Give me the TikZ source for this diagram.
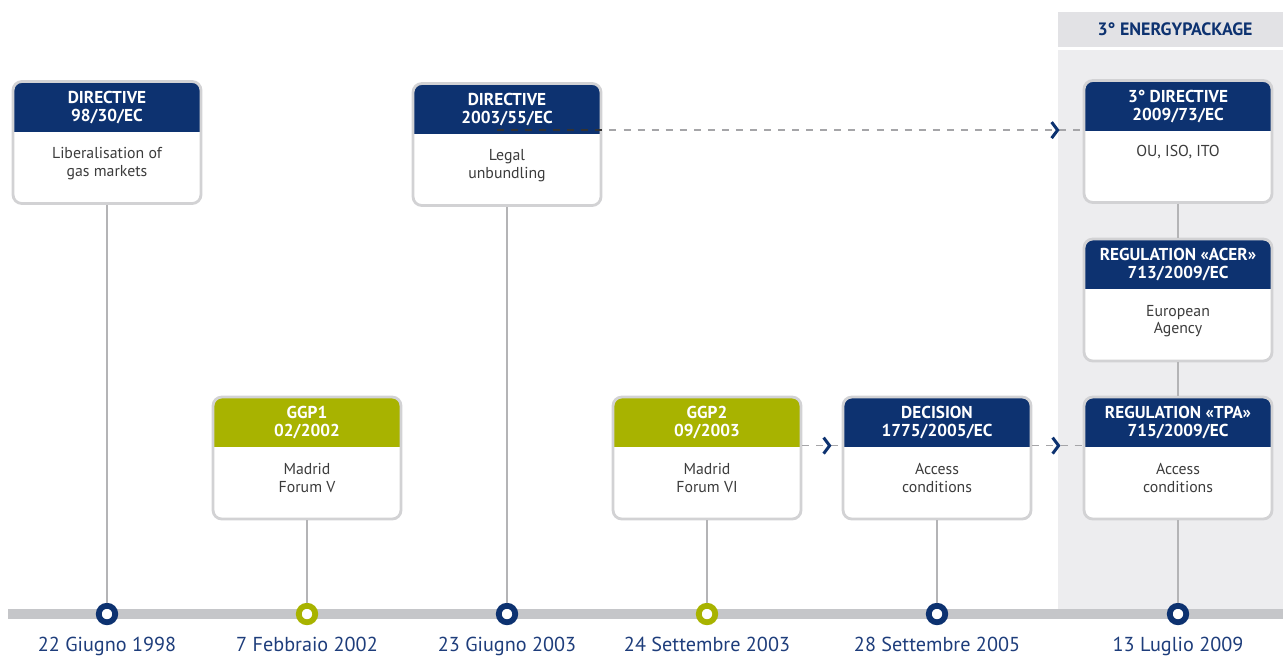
\documentclass[tikz,border=0pt]{standalone}
\usepackage{fontspec}
\setmainfont{PT Sans}
\usepackage{xcolor}
\definecolor{eu-navy}{HTML}{0D3270}
\definecolor{eu-olive}{HTML}{A8B300}
\definecolor{eu-date}{HTML}{1E3D7B}
\definecolor{eu-text}{HTML}{3C3C3C}
\definecolor{eu-border}{HTML}{D2D2D4}
\definecolor{eu-bar}{HTML}{C5C6C9}
\definecolor{eu-panel}{HTML}{EDEDEF}
\definecolor{eu-tab}{HTML}{E2E2E5}
\definecolor{eu-dash}{HTML}{A5A5A8}
\definecolor{eu-stem}{HTML}{B4B4B6}
\usepackage{tikz}
\usetikzlibrary{positioning, calc}

\tikzset{
  card/.style={draw=eu-border, line width=1.6pt, fill=white, rounded corners=5pt,
    minimum width=3.76cm, minimum height=2.44cm, inner sep=0pt,
    path picture={\fill[#1, sharp corners] (path picture bounding box.north west) rectangle ([yshift=-1.0cm]path picture bounding box.north east);}},
  headtext/.style={text=white, font=\bfseries\fontsize{9.8}{10.2}\selectfont, align=center, inner sep=0pt},
  bodytext/.style={text=eu-text, font=\fontsize{9}{10.2}\selectfont, align=center, anchor=north, inner sep=0pt},
  datetext/.style={text=eu-date, font=\fontsize{11.5}{13}\selectfont, inner sep=0pt},
  dot/.style={circle, draw=#1, line width=3.3pt, fill=white, minimum size=0.33cm, inner sep=0pt},
  stem/.style={draw=eu-stem, line width=0.6pt},
  dashline/.style={draw=eu-dash, line width=0.8pt, dash pattern=on 4pt off 4pt},
  chevron/.style={draw=eu-navy, line width=1.7pt}
}

\begin{document}
\begin{tikzpicture}[x=0.02cm, y=-0.02cm]

    \useasboundingbox (0, 0) rectangle (1283, 657);

    % Energy package panel
    \fill[eu-panel] (1058, 50) rectangle (1283, 609);
    \fill[eu-tab] (1058, 12) rectangle (1283, 47);
    \node[text=eu-navy, font=\bfseries\fontsize{10.2}{11}\selectfont] (tab) at (1175, 29.5) {3° ENERGYPACKAGE};

    % Timeline
    \fill[eu-bar] (8, 609) rectangle (1283, 619);

    \node[dot=eu-navy] (d98) at (107, 614) {};
    \node[dot=eu-olive] (d02) at (307, 614) {};
    \node[dot=eu-navy] (d03a) at (507, 614) {};
    \node[dot=eu-olive] (d03b) at (707, 614) {};
    \node[dot=eu-navy] (d05) at (937, 614) {};
    \node[dot=eu-navy] (d09) at (1178, 614) {};

    \node[datetext, below=0.24cm of d98] (t98) {22 Giugno 1998};
    \node[datetext, below=0.24cm of d02] (t02) {7 Febbraio 2002};
    \node[datetext, below=0.24cm of d03a] (t03a) {23 Giugno 2003};
    \node[datetext, below=0.24cm of d03b] (t03b) {24 Settembre 2003};
    \node[datetext, below=0.24cm of d05] (t05) {28 Settembre 2005};
    \node[datetext, below=0.24cm of d09] (t09) {13 Luglio 2009};

    % Directive 98/30/EC
    \node[card=eu-navy] (dir98) at (107, 142.5) {};
    \node[headtext] (dir98-h) at ($(dir98.north)+(0, 27)$) {DIRECTIVE\\98/30/EC};
    \node[bodytext] (dir98-b) at ($(dir98.north)+(0, 67)$) {Liberalisation of\\gas markets};

    % Directive 2003/55/EC
    \node[card=eu-navy] (dir03) at (507, 144.5) {};
    \node[headtext] (dir03-h) at ($(dir03.north)+(0, 27)$) {DIRECTIVE\\2003/55/EC};
    \node[bodytext] (dir03-b) at ($(dir03.north)+(0, 67)$) {Legal\\unbundling};

    % GGP1
    \node[card=eu-olive] (ggp1) at (307, 458) {};
    \node[headtext] (ggp1-h) at ($(ggp1.north)+(0, 27)$) {GGP1\\02/2002};
    \node[bodytext] (ggp1-b) at ($(ggp1.north)+(0, 67)$) {Madrid\\Forum V};

    % GGP2
    \node[card=eu-olive] (ggp2) at (707, 458) {};
    \node[headtext] (ggp2-h) at ($(ggp2.north)+(0, 27)$) {GGP2\\09/2003};
    \node[bodytext] (ggp2-b) at ($(ggp2.north)+(0, 67)$) {Madrid\\Forum VI};

    % Decision 1775/2005/EC
    \node[card=eu-navy] (dec05) at (937, 458) {};
    \node[headtext] (dec05-h) at ($(dec05.north)+(0, 27)$) {DECISION\\1775/2005/EC};
    \node[bodytext] (dec05-b) at ($(dec05.north)+(0, 67)$) {Access\\conditions};

    % 3rd package
    \node[card=eu-navy] (dir09) at (1178, 141.5) {};
    \node[headtext] (dir09-h) at ($(dir09.north)+(0, 27)$) {3° DIRECTIVE\\2009/73/EC};
    \node[bodytext] (dir09-b) at ($(dir09.north)+(0, 66)$) {OU, ISO, ITO};

    \node[card=eu-navy] (acer) at (1178, 300) {};
    \node[headtext] (acer-h) at ($(acer.north)+(0, 27)$) {REGULATION «ACER»\\713/2009/EC};
    \node[bodytext] (acer-b) at ($(acer.north)+(0, 67)$) {European\\Agency};

    \node[card=eu-navy] (tpa) at (1178, 458) {};
    \node[headtext] (tpa-h) at ($(tpa.north)+(0, 27)$) {REGULATION «TPA»\\715/2009/EC};
    \node[bodytext] (tpa-b) at ($(tpa.north)+(0, 67)$) {Access\\conditions};

    % Stems
    \draw[stem] (dir98.south) -- (d98.north);
    \draw[stem] (ggp1.south) -- (d02.north);
    \draw[stem] (dir03.south) -- (d03a.north);
    \draw[stem] (ggp2.south) -- (d03b.north);
    \draw[stem] (dec05.south) -- (d05.north);
    \draw[stem] (dir09.south) -- (acer.north);
    \draw[stem] (acer.south) -- (tpa.north);
    \draw[stem] (tpa.south) -- (d09.north);

    % Links
    \coordinate (l1) at ($(dir03.north)+(-10, 48)$);
    \draw[dashline] (l1) -- (l1 -| dir09.west);
    \draw[dashline, draw=black!80] (l1) -- (l1 -| dir03.east);
    \coordinate (k1) at ($(l1 -| dir09.west)+(-25, 0)$);
    \draw[chevron] ($(k1)+(-6, -8)$) -- (k1) -- ($(k1)+(-6, 8)$);

    \coordinate (l2) at ($(ggp2.north east)+(0, 50)$);
    \draw[dashline] (l2) -- (l2 -| dec05.west);
    \coordinate (k2) at ($(l2 -| dec05.west)+(-12, 0)$);
    \draw[chevron] ($(k2)+(-6, -8)$) -- (k2) -- ($(k2)+(-6, 8)$);

    \coordinate (l3) at ($(dec05.north east)+(0, 50)$);
    \draw[dashline] (l3) -- (l3 -| tpa.west);
    \coordinate (k3) at ($(l3 -| tpa.west)+(-24, 0)$);
    \draw[chevron] ($(k3)+(-6, -8)$) -- (k3) -- ($(k3)+(-6, 8)$);

\end{tikzpicture}
\end{document}
